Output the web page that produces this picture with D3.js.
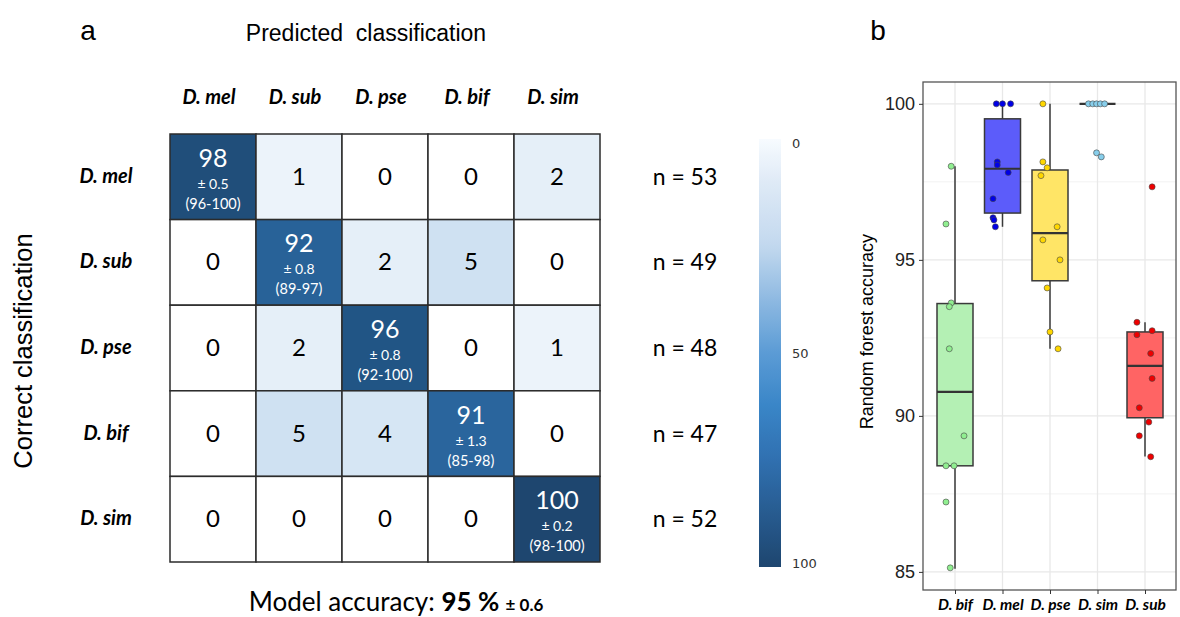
<!DOCTYPE html>
<html>
<head>
  <meta charset="utf-8">
  <script src="https://cdn.jsdelivr.net/npm/d3@7"></script>
  <style>
    html, body { margin: 0; background: #fff; }
  </style>
</head>
<body>
<script>
// ---- panel a data ----
var predicted = ['D. mel', 'D. sub', 'D. pse', 'D. bif', 'D. sim'];
var correct = ['D. mel', 'D. sub', 'D. pse', 'D. bif', 'D. sim'];
var confusion = [
  [98, 1, 0, 0, 2],
  [0, 92, 2, 5, 0],
  [0, 2, 96, 0, 1],
  [0, 5, 4, 91, 0],
  [0, 0, 0, 0, 100]
];
var diagSd = ['± 0.5', '± 0.8', '± 0.8', '± 1.3', '± 0.2'];
var diagRange = ['(96-100)', '(89-97)', '(92-100)', '(85-98)', '(98-100)'];
var nCounts = [53, 49, 48, 47, 52];
var colorTicks = [0, 50, 100];

// ---- panel b data ----
var species = ['D. bif', 'D. mel', 'D. pse', 'D. sim', 'D. sub'];
var boxLow = [85.1, 96.06, 92.15, 100, 88.7];
var boxQ1 = [88.4, 96.5, 94.33, 100, 89.94];
var boxMed = [90.77, 97.92, 95.86, 100, 91.6];
var boxQ3 = [93.6, 99.52, 97.88, 100, 92.69];
var boxHigh = [98.0, 100, 100, 100, 93.0];
var ptSpecies = [
  0,0,0,0,0,0,0,0,0,0,
  1,1,1,1,1,1,1,1,1,1,
  2,2,2,2,2,2,2,2,2,2,
  3,3,3,3,3,3,3,
  4,4,4,4,4,4,4,4,4,4
];
var ptValue = [
  98.0, 96.15, 93.62, 93.5, 92.15, 89.36, 88.4, 88.4, 87.24, 85.13,
  100, 100, 100, 98.14, 98.04, 97.8, 96.96, 96.35, 96.28, 96.06,
  100, 98.14, 97.95, 97.7, 96.06, 95.64, 95.0, 94.1, 92.69, 92.15,
  100, 100, 100, 100, 100, 98.43, 98.3,
  97.34, 93.0, 92.6, 92.73, 92.0, 91.2, 90.26, 89.8, 89.36, 88.69
];
var ptJitter = [
  -0.08, -0.19, -0.08, -0.12, -0.12, 0.19, -0.19, -0.02, -0.19, -0.1,
  -0.13, 0.0, 0.17, -0.11, -0.11, 0.12, -0.2, -0.2, -0.18, -0.15,
  -0.15, -0.15, -0.06, -0.19, 0.15, -0.15, 0.21, -0.06, 0.0, 0.17,
  -0.19, -0.1, -0.02, 0.06, 0.15, -0.02, 0.08,
  0.15, -0.17, -0.17, 0.15, 0.12, 0.15, -0.12, 0.08, -0.12, 0.12
];
var yTicks = [85, 90, 95, 100];
var yMinor = [87.5, 92.5, 97.5];
var boxFill = ['#b4f0b4', '#5c5cfa', '#ffe566', '#87ceeb', '#ff6464'];
var ptFill = ['#90ee90', '#0000e6', '#ffd700', '#87ceeb', '#ee0000'];

var LATO = 'Lato, "Open Sans", sans-serif';
var ARIAL = '"Liberation Sans", Arial, sans-serif';

var width = 1180, height = 617;
var svg = d3.select('body').append('svg')
  .attr('width', width).attr('height', height)
  .style('font-family', LATO);

// ================= panel a =================
var x = d3.scaleBand().domain(predicted).range([170, 600]);
var y = d3.scaleBand().domain(correct).range([134, 562]);

var color = d3.scaleLinear()
  .domain([0, 1, 5, 25, 50, 62, 75, 91, 96, 100])
  .range(['#ffffff', '#ecf3fa', '#cfe1f2', '#b9d3ec', '#5b9bd5', '#3a86c8',
          '#3070b0', '#2a659d', '#215585', '#1e466f']);
var barColor = d3.scaleLinear()
  .domain([0, 10, 25, 50, 62, 75, 100])
  .range(['#f7fbff', '#dfeaf6', '#c2d8ee', '#5b9bd5', '#3a86c8', '#3070b0', '#1e466f']);

var cells = [];
confusion.forEach(function (row, i) {
  row.forEach(function (v, j) { cells.push({ r: i, c: j, v: v }); });
});

var g = svg.append('g');
g.selectAll('rect.cell').data(cells).enter().append('rect')
  .attr('class', 'cell')
  .attr('x', d => x(predicted[d.c]))
  .attr('y', d => y(correct[d.r]))
  .attr('width', x.bandwidth())
  .attr('height', y.bandwidth())
  .attr('fill', d => color(d.v))
  .attr('stroke', '#2b2b2b')
  .attr('stroke-width', 1.5);

g.selectAll('text.off').data(cells.filter(d => d.r != d.c)).enter().append('text')
  .attr('x', d => x(predicted[d.c]) + x.bandwidth() / 2)
  .attr('y', d => y(correct[d.r]) + y.bandwidth() / 2 + 8)
  .attr('text-anchor', 'middle')
  .attr('font-size', 24)
  .attr('fill', '#000')
  .text(d => d.v);

var diag = cells.filter(d => d.r == d.c);
diag.forEach(function (d) {
  var cx = x(predicted[d.c]) + x.bandwidth() / 2;
  var cy = y(correct[d.r]) + y.bandwidth() / 2;
  g.append('text').attr('x', cx).attr('y', cy - 10)
    .attr('text-anchor', 'middle').attr('font-size', 25).attr('fill', '#fff')
    .text(d.v);
  g.append('text').attr('x', cx).attr('y', cy + 12)
    .attr('text-anchor', 'middle').attr('font-size', 14).attr('fill', '#fff')
    .text(diagSd[d.r]);
  g.append('text').attr('x', cx).attr('y', cy + 32)
    .attr('text-anchor', 'middle').attr('font-size', 14.5).attr('fill', '#fff')
    .text(diagRange[d.r]);
});

// column labels
svg.selectAll('text.col').data(predicted).enter().append('text')
  .attr('x', d => x(d) + x.bandwidth() / 2 - 4)
  .attr('y', 104)
  .attr('text-anchor', 'middle')
  .attr('font-size', 20).attr('font-weight', 'bold').attr('font-style', 'italic')
  .text(d => d);

// row labels
svg.selectAll('text.row').data(correct).enter().append('text')
  .attr('x', 106)
  .attr('y', d => y(d) + y.bandwidth() / 2 + 6)
  .attr('text-anchor', 'middle')
  .attr('font-size', 20).attr('font-weight', 'bold').attr('font-style', 'italic')
  .text(d => d);

// n counts
svg.selectAll('text.n').data(nCounts).enter().append('text')
  .attr('x', 685)
  .attr('y', (d, i) => y(correct[i]) + y.bandwidth() / 2 + 8)
  .attr('text-anchor', 'middle')
  .attr('font-size', 23)
  .text(d => 'n = ' + d);

svg.append('text').style('font-family', ARIAL)
  .attr('x', 88).attr('y', 40).attr('text-anchor', 'middle')
  .attr('font-size', 28).text('a');
svg.append('text').style('font-family', ARIAL)
  .attr('x', 366).attr('y', 41).attr('text-anchor', 'middle')
  .attr('font-size', 23).text('Predicted\u00a0\u00a0classification');
svg.append('text').style('font-family', ARIAL)
  .attr('transform', 'translate(32,351) rotate(-90)')
  .attr('text-anchor', 'middle')
  .attr('font-size', 25.5).text('Correct classification');

var acc = svg.append('text').attr('x', 396).attr('y', 611)
  .attr('text-anchor', 'middle').attr('font-size', 26);
acc.append('tspan').text('Model accuracy: ');
acc.append('tspan').attr('font-weight', 'bold').text('95 %\u00a0');
acc.append('tspan').attr('font-weight', 'bold').attr('font-size', 17).text('± 0.6');

// colour bar
var cb = d3.scaleLinear().domain([0, 100]).range([143, 563]);
var grad = svg.append('defs').append('linearGradient')
  .attr('id', 'cbar').attr('x1', 0).attr('x2', 0).attr('y1', 0).attr('y2', 1);
d3.range(0, 101, 2).forEach(function (v) {
  grad.append('stop').attr('offset', v + '%').attr('stop-color', barColor(v));
});
svg.append('rect')
  .attr('x', 759).attr('y', cb(0) - 4)
  .attr('width', 22).attr('height', cb(100) - cb(0) + 8)
  .attr('fill', 'url(#cbar)');
svg.selectAll('text.cbt').data(colorTicks).enter().append('text')
  .attr('x', 792).attr('y', d => cb(d) + 5)
  .attr('font-size', 13).attr('fill', '#333')
  .style('font-family', '"DejaVu Sans", sans-serif')
  .text(d => d);

// ================= panel b =================
var L = 923, R = 1176, T = 82, B = 590;
var bx = d3.scalePoint().domain(species).range([955, 1145]);
var step = bx.step();
var by = d3.scaleLinear().domain([84.42, 100.7]).range([B, T]);

var pb = svg.append('g');
pb.selectAll('line.minor').data(yMinor).enter().append('line')
  .attr('x1', L).attr('x2', R).attr('y1', d => by(d)).attr('y2', d => by(d))
  .attr('stroke', '#f2f2f2').attr('stroke-width', 1);
pb.selectAll('line.major').data(yTicks).enter().append('line')
  .attr('x1', L).attr('x2', R).attr('y1', d => by(d)).attr('y2', d => by(d))
  .attr('stroke', '#e8e8e8').attr('stroke-width', 1.3);
pb.selectAll('line.vmajor').data(species).enter().append('line')
  .attr('x1', d => bx(d)).attr('x2', d => bx(d)).attr('y1', T).attr('y2', B)
  .attr('stroke', '#e8e8e8').attr('stroke-width', 1.3);

var bw = 36;
species.forEach(function (s, i) {
  var cx = bx(s);
  pb.append('line').attr('x1', cx).attr('x2', cx)
    .attr('y1', by(boxLow[i])).attr('y2', by(boxHigh[i]))
    .attr('stroke', '#3a3a3a').attr('stroke-width', 1.5);
  pb.append('rect').attr('x', cx - bw / 2).attr('y', by(boxQ3[i]))
    .attr('width', bw).attr('height', Math.max(by(boxQ1[i]) - by(boxQ3[i]), 0))
    .attr('fill', boxFill[i]).attr('stroke', '#3a3a3a').attr('stroke-width', 1.5);
  pb.append('line').attr('x1', cx - bw / 2).attr('x2', cx + bw / 2)
    .attr('y1', by(boxMed[i])).attr('y2', by(boxMed[i]))
    .attr('stroke', '#333').attr('stroke-width', 2.2);
});

pb.selectAll('circle.pt').data(ptValue).enter().append('circle')
  .attr('cx', (d, i) => bx(species[ptSpecies[i]]) + ptJitter[i] * step)
  .attr('cy', d => by(d))
  .attr('r', 3)
  .attr('fill', (d, i) => ptFill[ptSpecies[i]])
  .attr('stroke', '#444').attr('stroke-width', 0.6);

pb.append('rect').attr('x', L).attr('y', T).attr('width', R - L).attr('height', B - T)
  .attr('fill', 'none').attr('stroke', '#555').attr('stroke-width', 1.3);

// axes
var yAxis = d3.axisLeft(by).tickValues(yTicks).tickSize(4).tickPadding(4);
var ya = svg.append('g').attr('transform', 'translate(' + L + ',0)').call(yAxis);
ya.select('.domain').remove();
ya.selectAll('line').attr('stroke', '#333');
ya.selectAll('text').attr('font-size', 18).attr('fill', '#222')
  .style('font-family', ARIAL);

var xAxis = d3.axisBottom(bx).tickSize(4).tickPadding(5);
var xa = svg.append('g').attr('transform', 'translate(0,' + B + ')').call(xAxis);
xa.select('.domain').remove();
xa.selectAll('line').attr('stroke', '#333');
xa.selectAll('text').attr('font-size', 15.5).attr('font-weight', 'bold')
  .attr('font-style', 'italic').attr('fill', '#000')
  .style('font-family', LATO);

svg.append('text').style('font-family', ARIAL)
  .attr('transform', 'translate(873,' + by(92.7) + ') rotate(-90)')
  .attr('text-anchor', 'middle').attr('font-size', 18)
  .text('Random forest accuracy');
svg.append('text').style('font-family', ARIAL)
  .attr('x', 878).attr('y', 40).attr('text-anchor', 'middle')
  .attr('font-size', 28).text('b');
</script>
</body>
</html>
